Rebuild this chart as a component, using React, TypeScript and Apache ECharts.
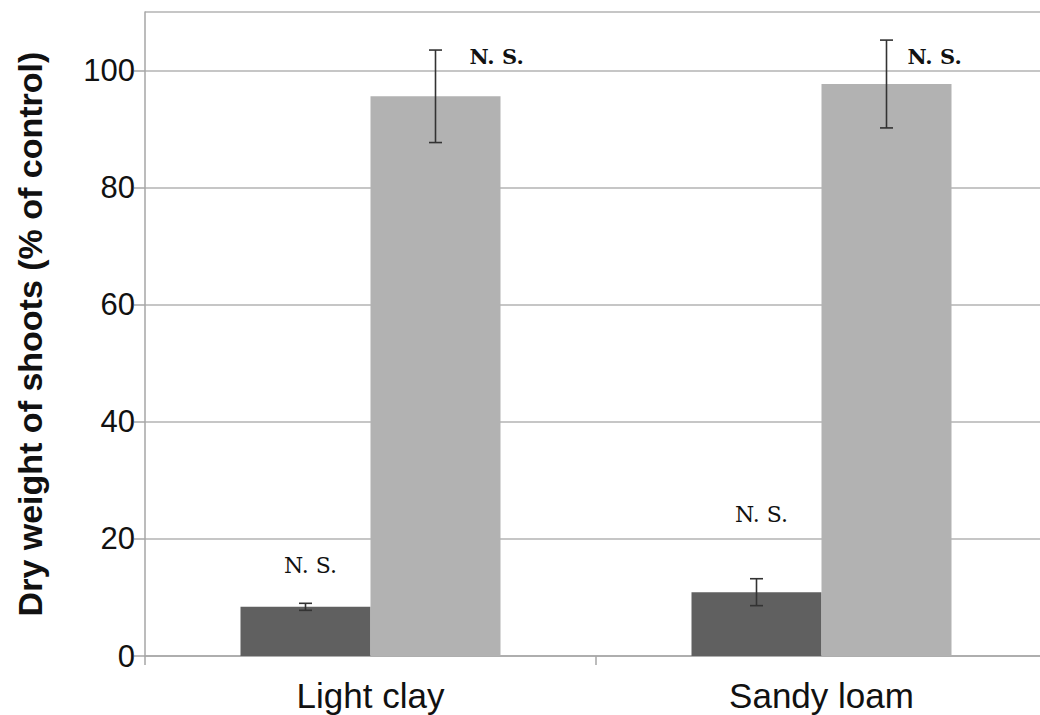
import React, { useEffect, useRef } from "react";
import * as echarts from "echarts";

// Soil types on the category axis
const categories = ["Light clay", "Sandy loam"];

// Shoot dry weight as % of control, two treatments per soil
const darkValues = [8.4, 10.9];
const lightValues = [95.6, 97.7];

// Error bar half-widths (± around each mean)
const darkErrors = [0.6, 2.3];
const lightErrors = [7.9, 7.5];

// Significance notes per bar
const darkNotes = ["N. S.", "N. S."];
const lightNotes = ["N. S.", "N. S."];

// Annotation placement: axis level of each note, and sideways shift (px) of the bold notes
const darkNoteLevels = [15.4, 24.1];
const lightNoteLevels = [102.4, 102.4];
const lightNoteShift = [34, 21];

const GAP = 0.4235;
const DARK = "#606060";
const LIGHT = "#b2b2b2";
const SERIF = "'DejaVu Serif', 'Liberation Serif', serif";
const SANS = "'Liberation Sans', Arial, sans-serif";

export default function App() {
  const ref = useRef<HTMLDivElement>(null);

  useEffect(() => {
    if (!ref.current) return;
    const chart = echarts.init(ref.current, undefined, { renderer: "svg" });

    const errData: number[][] = [];
    categories.forEach((_, i) => {
      errData.push([i, darkValues[i] - darkErrors[i], darkValues[i] + darkErrors[i], 0]);
      errData.push([i, lightValues[i] - lightErrors[i], lightValues[i] + lightErrors[i], 1]);
    });

    const renderError = (params: any, api: any) => {
      const idx = api.value(0);
      const low = api.value(1);
      const high = api.value(2);
      const which = api.value(3);
      const catW = api.size([1, 0])[0];
      const barW = (catW * (1 - GAP)) / 2;
      const center = api.coord([idx, 0])[0];
      const x = which === 0 ? center - barW / 2 : center + barW / 2;
      const yHigh = api.coord([idx, high])[1];
      const yLow = api.coord([idx, low])[1];
      const cap = 6.5;
      const stroke = { stroke: "#333333", lineWidth: 1.6 };
      const children: any[] = [
        { type: "line", shape: { x1: x, y1: yHigh, x2: x, y2: yLow }, style: stroke },
        { type: "line", shape: { x1: x - cap, y1: yHigh, x2: x + cap, y2: yHigh }, style: stroke },
        { type: "line", shape: { x1: x - cap, y1: yLow, x2: x + cap, y2: yLow }, style: stroke },
      ];
      if (which === 0) {
        const ny = api.coord([idx, darkNoteLevels[idx]])[1];
        children.push({
          type: "text",
          style: {
            text: darkNotes[idx],
            x: x + 5,
            y: ny,
            align: "center",
            verticalAlign: "middle",
            fontFamily: SERIF,
            fontSize: 22,
            fill: "#111111",
          },
        });
      } else {
        const ny = api.coord([idx, lightNoteLevels[idx]])[1];
        children.push({
          type: "text",
          style: {
            text: lightNotes[idx],
            x: x + lightNoteShift[idx],
            y: ny,
            align: "left",
            verticalAlign: "middle",
            fontFamily: SERIF,
            fontSize: 21,
            fontWeight: "bold",
            fill: "#111111",
          },
        });
      }
      return { type: "group", children };
    };

    chart.setOption({
      animation: false,
      grid: { left: 145, right: -7, top: 12, bottom: 59, containLabel: false, outerBoundsMode: "none" },
      xAxis: {
        type: "category",
        data: categories,
        axisLine: { show: true, lineStyle: { color: "#a6a6a6", width: 1.5 } },
        axisTick: { show: true, alignWithLabel: false, length: 9, lineStyle: { color: "#a6a6a6", width: 1.5 } },
        axisLabel: {
          color: "#111111",
          fontFamily: SANS,
          fontSize: 35,
          margin: 22,
        },
      },
      yAxis: {
        type: "value",
        min: 0,
        max: 110,
        interval: 20,
        name: "Dry weight of shoots (% of control)",
        nameLocation: "middle",
        nameGap: 98,
        nameTextStyle: {
          color: "#111111",
          fontFamily: SANS,
          fontSize: 34,
          fontWeight: "bold",
        },
        axisLine: { show: true, lineStyle: { color: "#a6a6a6", width: 1.5 } },
        axisTick: { show: true, inside: false, length: 11, lineStyle: { color: "#a6a6a6", width: 1.5 } },
        axisLabel: {
          color: "#111111",
          fontFamily: SANS,
          fontSize: 31,
          margin: 10,
          showMaxLabel: false,
        },
        splitLine: { show: true, lineStyle: { color: "#b3b3b3", width: 1.5 } },
      },
      series: [
        {
          type: "bar",
          data: darkValues,
          barGap: "0%",
          barCategoryGap: GAP * 100 + "%",
          itemStyle: { color: DARK },
        },
        {
          type: "bar",
          data: lightValues,
          itemStyle: { color: LIGHT },
        },
        {
          type: "custom",
          data: errData,
          renderItem: renderError,
          encode: { x: 0, y: [1, 2] },
          z: 10,
        },
      ],
    });

    return () => chart.dispose();
  }, []);

  return (
    <div
      ref={ref}
      style={{ position: "fixed", left: 0, top: 0, width: 1040, height: 715, background: "#ffffff" }}
    />
  );
}
